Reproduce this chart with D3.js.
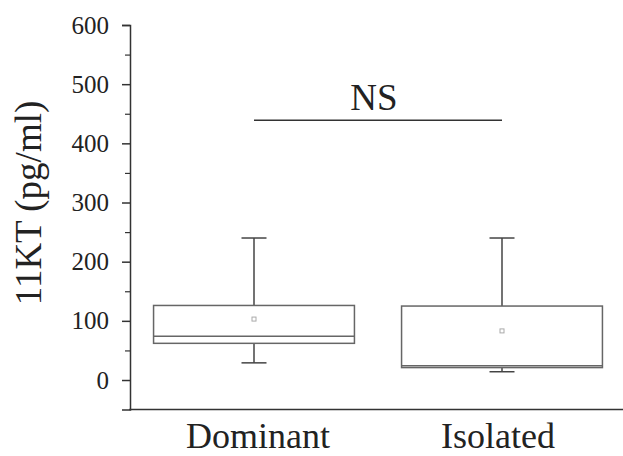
<!DOCTYPE html>
<html>
<head>
<meta charset="utf-8">
<script src="https://cdn.jsdelivr.net/npm/d3@7"></script>
<style>
  body { margin: 0; background: #fff; }
  svg text { font-family: 'Liberation Serif', 'Times New Roman', serif; fill: #222; }
</style>
</head>
<body>
<div id="chart"></div>
<script>
const groups = ['Dominant', 'Isolated'];
const whiskerLow = [29, 14];
const q1 = [62, 21];
const median = [74, 24];
const q3 = [126, 125];
const whiskerHigh = [240, 240];
const means = [103, 83];
const majorTicks = [0, 100, 200, 300, 400, 500, 600];
const minorTicks = [50, 150, 250, 350, 450, 550];
const sigLabel = 'NS';
const sigLevel = 439;

const width = 623,
  height = 456;

const svg = d3
  .select('#chart')
  .append('svg')
  .attr('width', width)
  .attr('height', height);

const y = d3.scaleLinear().domain([-50, 600]).range([409.6, 25]);
const x = d3.scaleBand().domain(groups).range([130, 626]).padding(0);

const boxW = x.bandwidth() * 0.81;
const capW = 25;
const boxColor = '#666';
const axisColor = '#333';

const data = groups.map((g, i) => ({
  name: g,
  low: whiskerLow[i],
  q1: q1[i],
  median: median[i],
  q3: q3[i],
  high: whiskerHigh[i],
  mean: means[i],
}));

// y axis
const yAxis = svg
  .append('g')
  .attr('transform', 'translate(130,0)')
  .call(d3.axisLeft(y).tickValues(majorTicks).tickSize(8).tickPadding(13))
  .attr('font-family', 'Liberation Serif, serif')
  .attr('font-size', 25);
yAxis.select('.domain').attr('stroke', axisColor).attr('stroke-width', 1.5);
yAxis.selectAll('.tick line').attr('stroke', axisColor).attr('stroke-width', 1.5);
yAxis.selectAll('.tick text').attr('fill', '#333');

const yMinor = svg
  .append('g')
  .attr('transform', 'translate(130,0)')
  .call(d3.axisLeft(y).tickValues(minorTicks).tickSize(5).tickFormat(''));
yMinor.select('.domain').remove();
yMinor.selectAll('.tick line').attr('stroke', axisColor).attr('stroke-width', 1.2);

// x axis line
svg
  .append('line')
  .attr('x1', 129.25)
  .attr('x2', width)
  .attr('y1', y(-50))
  .attr('y2', y(-50))
  .attr('stroke', axisColor)
  .attr('stroke-width', 1.5);

// x labels
svg
  .selectAll('.xlabel')
  .data(groups)
  .enter()
  .append('text')
  .attr('class', 'xlabel')
  .attr('x', (d) => x(d) + x.bandwidth() / 2 + (d === 'Dominant' ? 4 : -4))
  .attr('y', 448)
  .attr('text-anchor', 'middle')
  .style('font-size', '36px')
  .text((d) => d);

// y label
svg
  .append('text')
  .attr('transform', 'translate(41,203) rotate(-90)')
  .attr('text-anchor', 'middle')
  .style('font-size', '37px')
  .text('11KT (pg/ml)');

// boxes
const box = svg
  .selectAll('.box')
  .data(data)
  .enter()
  .append('g')
  .attr('class', 'box')
  .attr('transform', (d) => `translate(${x(d.name) + x.bandwidth() / 2},0)`);

box
  .append('line')
  .attr('x1', 0)
  .attr('x2', 0)
  .attr('y1', (d) => y(d.high))
  .attr('y2', (d) => y(d.q3))
  .attr('stroke', '#444')
  .attr('stroke-width', 1.5);
box
  .append('line')
  .attr('x1', 0)
  .attr('x2', 0)
  .attr('y1', (d) => y(d.q1))
  .attr('y2', (d) => y(d.low))
  .attr('stroke', '#444')
  .attr('stroke-width', 1.5);
box
  .selectAll('.cap')
  .data((d) => [d.low, d.high])
  .enter()
  .append('line')
  .attr('x1', -capW / 2)
  .attr('x2', capW / 2)
  .attr('y1', (v) => y(v))
  .attr('y2', (v) => y(v))
  .attr('stroke', '#444')
  .attr('stroke-width', 1.5);

box
  .append('rect')
  .attr('x', -boxW / 2)
  .attr('width', boxW)
  .attr('y', (d) => y(d.q3))
  .attr('height', (d) => y(d.q1) - y(d.q3))
  .attr('fill', '#fff')
  .attr('stroke', boxColor)
  .attr('stroke-width', 1.5);

box
  .append('line')
  .attr('x1', -boxW / 2)
  .attr('x2', boxW / 2)
  .attr('y1', (d) => y(d.median))
  .attr('y2', (d) => y(d.median))
  .attr('stroke', boxColor)
  .attr('stroke-width', 1.5);

box
  .append('rect')
  .attr('x', -2)
  .attr('width', 4)
  .attr('y', (d) => y(d.mean) - 2)
  .attr('height', 4)
  .attr('fill', 'none')
  .attr('stroke', '#aaa')
  .attr('stroke-width', 1);

// significance bar
const cx = (g) => x(g) + x.bandwidth() / 2;
svg
  .append('line')
  .attr('x1', cx(groups[0]))
  .attr('x2', cx(groups[1]))
  .attr('y1', y(sigLevel))
  .attr('y2', y(sigLevel))
  .attr('stroke', '#333')
  .attr('stroke-width', 1.5);
svg
  .append('text')
  .attr('x', 374)
  .attr('y', 110)
  .attr('text-anchor', 'middle')
  .style('font-size', '37px')
  .text(sigLabel);
</script>
</body>
</html>
